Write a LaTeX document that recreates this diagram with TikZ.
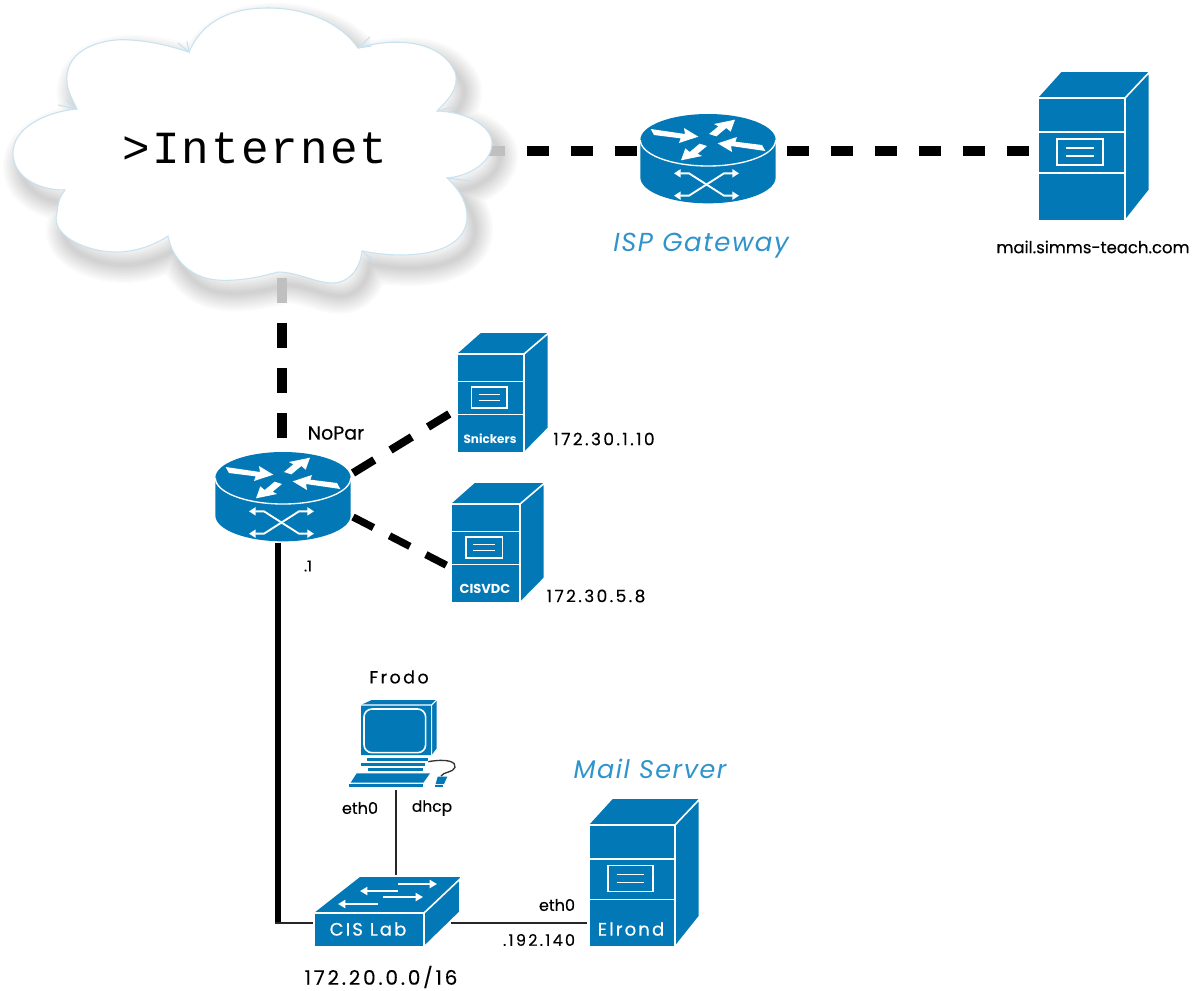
\documentclass[tikz,border=0pt]{standalone}
\usepackage{fontspec}
\setmainfont{Poppins}
\newfontfamily\monofnt{Liberation Mono}
\newfontfamily\spaced[LetterSpace=6]{Poppins}
\newfontfamily\wide[LetterSpace=14,FakeBold=0.25]{Poppins}
\newfontfamily\widebold[LetterSpace=12,FakeBold=0.6]{Poppins}
\newfontfamily\med[FakeBold=0.35]{Poppins}
\usetikzlibrary{arrows.meta,calc}
\definecolor{cisco}{HTML}{0279B6}
\definecolor{capblue}{HTML}{2F93CC}
\definecolor{cloudline}{HTML}{C8E2F0}
\newcommand{\fs}[1]{\pgfmathparse{#1*0.75}\edef\fsz{\pgfmathresult}\fontsize{\fsz pt}{\fsz pt}\selectfont}
\def\cloudpath{(189,52) .. controls (205,15) and (240,8) .. (268,8) .. controls (305,8) and (340,22) .. (358,48)
 .. controls (390,38) and (440,38) .. (455,72) .. controls (460,88) and (448,100) .. (437,111)
 .. controls (470,112) and (492,128) .. (492,143) .. controls (492,162) and (470,176) .. (447,178)
 .. controls (462,192) and (467,205) .. (467,217) .. controls (467,250) and (420,262) .. (362,251)
 .. controls (360,270) and (348,283) .. (333,283) .. controls (315,283) and (298,272) .. (278,272)
 .. controls (250,280) and (230,281) .. (217,280) .. controls (190,278) and (172,258) .. (168,236)
 .. controls (150,248) and (130,252) .. (117,252) .. controls (85,252) and (50,235) .. (57,213) .. controls (58,202) and (60,196) .. (65,190)
 .. controls (35,190) and (13,175) .. (13,153) .. controls (13,128) and (45,112) .. (77,109)
 .. controls (70,95) and (66,88) .. (67,75) .. controls (70,45) and (110,38) .. (130,40) .. controls (150,41) and (170,46) .. (189,52) -- cycle}
\tikzset{
  x=0.75pt,y=-0.75pt,
  hotspot/.style={inner sep=0pt,outer sep=0pt},
  wan/.style={line width=7.5pt,black,dash pattern=on 16.5pt off 16.5pt},
  wanfaded/.style={line width=7.5pt,black!25},
  lanthick/.style={line width=4.5pt,black},
  lanthin/.style={line width=2pt,black!85},
  edgew/.style={draw=white,line width=1.2pt},
  tiny arrow/.style={white,line width=1.4pt,{Triangle[length=5pt,width=6pt]}-{Triangle[length=5pt,width=6pt]}},
  one arrow/.style={white,line width=1.4pt,-{Triangle[length=5.5pt,width=6pt]}},
  lbl/.style={inner sep=0pt,black},
  inlbl/.style={inner sep=0pt,white},
  bluecap/.style={inner sep=0pt,capblue}
}
\newcommand{\serverbox}[5]{%
  \node[hotspot,minimum width=#4*0.75pt,minimum height=#5*0.75pt] (#1) at ({#2+#4/2},{#3+#5/2}) {};
  \pgfmathsetmacro{\srvback}{87+24.5*87/#4}%
  \begin{scope}[shift={(#2,#3)},xscale=#4/87,yscale=#5/123]
    \fill[cisco] (0,0) -- (\srvback-88,-26) -- (\srvback,-26) -- (\srvback,92) -- (87,123) -- (0,123) -- cycle;
    \draw[edgew] (0,0) rectangle (87,123);
    \draw[edgew] (87,0) -- (\srvback,-26) -- (\srvback,92) -- (87,123);
    \draw[edgew] (0,34) -- (87,34) (0,75) -- (87,75);
    \draw[edgew] (19,41) rectangle (65,67);
    \draw[edgew,line width=.9pt] (28,50) -- (56,50) (28,58) -- (56,58);
  \end{scope}}
\newcommand{\routerbox}[3]{%
  \node[hotspot,minimum width=102pt,minimum height=67pt] (#1) at (#2,{#3+18}) {};
  \begin{scope}[shift={(#2,#3)},scale=1/3,shift={(-247,-473)}]
    \fill[cisco] (44,473) -- (44,585) arc[start angle=180,end angle=0,x radius=203,y radius=78] -- (450,473) -- cycle;
    \fill[cisco] (247,473) circle[x radius=203,y radius=78];
    \draw[white,line width=1pt] (44,473) arc[start angle=180,end angle=0,x radius=203,y radius=78];
    \fill[white] (75,440) -- (178,455) -- (175,437) -- (218,463) -- (160,482) -- (165,468) -- (85,458) -- cycle;
    \fill[white] (250,455) -- (278,432) -- (265,425) -- (328,412) -- (315,448) -- (302,437) -- (272,462) -- cycle;
    \fill[white] (419,506) -- (316,491) -- (319,509) -- (276,483) -- (334,464) -- (329,478) -- (409,488) -- cycle;
    \fill[white] (244,491) -- (216,514) -- (229,521) -- (166,534) -- (179,498) -- (192,509) -- (222,484) -- cycle;
    \draw[tiny arrow] (145,573) -- (190,573) -- (295,640) -- (340,640);
    \draw[tiny arrow] (145,640) -- (190,640) -- (295,573) -- (340,573);
  \end{scope}}
\begin{document}
\begin{tikzpicture}
\useasboundingbox (0,0) rectangle (1194,990);
\fill[white] (0,0) rectangle (1194,990);

% cloud shadow
\begin{scope}[shift={(8,13)}]
\foreach \w in {36,32,...,4}{
  \path[draw=black,line width=\w*0.75pt,line join=round,opacity=0.02] \cloudpath;
}
\end{scope}

% anchors
\node[hotspot,minimum width=360pt,minimum height=208pt] (cloud) at (253,146.5) {};
\coordinate (cloudE) at (483,151);
\coordinate (cloudS) at (282,278);

% placeholders for the connector targets
\routerbox{isp}{708}{140}
\routerbox{nopar}{283}{478}
\serverbox{mail}{1038}{98}{87}{123}
\serverbox{snickers}{457}{354}{67}{99}
\serverbox{cisvdc}{451}{504}{69}{99}
\serverbox{elrond}{589}{825}{86}{122}
\node[hotspot,minimum width=109pt,minimum height=52pt] (switch) at (387,912) {};
\node[hotspot,minimum width=80pt,minimum height=66pt] (frodo) at (402,744) {};
\coordinate (bend) at (278,923);

% connectors
\draw[wan] (cloudE) -- ($(isp.west)+(0,-7)$);
\draw[wanfaded] (cloudE) -- ++(22,0);
\draw[wan] ($(isp.east)+(11,-7)$) -- ($(mail.west)+(-8,-8.5)$);
\draw[wan,dash pattern=on 18.75pt off 15pt] (cloudS) -- ($(nopar.north)+(-1,-13)$);
\draw[wanfaded] (cloudS) -- ++(0,25);
\draw[line width=6pt,dash pattern=on 18.75pt off 14.25pt] ($(nopar.east)+(2,-23)$) -- ($(snickers.west)+(-7,10)$);
\draw[line width=5.5pt,dash pattern=on 17.25pt off 13.5pt] ($(nopar.east)+(2,21)$) -- ($(cisvdc.west)+(-4,12)$);
\draw[lanthick] ($(nopar.south)+(-5,2)$) -- (bend);
\draw[lanthin] ($(bend)+(-3,0)$) -- (bend -| switch.west);
\draw[lanthin] ($(frodo.south)+(-6,2)$) -- ($(switch.north)+(9,-2)$);
\draw[lanthin] ($(switch.east)+(-9,11)$) -- ($(elrond.west)+(-2,37)$);

% cloud
\path[fill=white,draw=cloudline,line width=0.8pt] \cloudpath;
\draw[cloudline,line width=.8pt] (178,43) -- (189,52) -- (187,41) (358,48) -- (370,37) (358,48) -- (372,46)
  (77,109) -- (58,105) (77,109) -- (66,100) (437,111) -- (457,106) (447,178) -- (470,181) (362,251) -- (375,263);
\node[inner sep=0pt] at (255,148) {\monofnt\addfontfeature{LetterSpace=4.5}\fs{46}>Internet};

% switch
\fill[cisco] (314,913) -- (360,877) -- (460,877) -- (460,912) -- (424,947) -- (314,947) -- cycle;
\draw[edgew] (314,913) rectangle (424,947);
\draw[edgew] (424,913) -- (460,879) -- (460,912) -- (424,947);
\draw[one arrow] (398,884) -- (437,884);
\draw[one arrow] (398,891) -- (360,891);
\draw[one arrow] (383,897) -- (423,897);
\draw[one arrow] (378,904) -- (338,904);

% PC
\begin{scope}[shift={(260,660)},scale=1/3]
\fill[cisco] (303,135) -- (335,120) -- (530,120) -- (530,265) -- (515,285) -- (303,285) -- cycle;
\draw[edgew,line width=.8pt] (515,135) -- (530,120) (303,135) -- (515,135) -- (515,285);
\draw[edgew,line width=1.2pt,rounded corners=6pt] (312,147) rectangle (497,278);
\fill[cisco] (320,295) rectangle (505,303);
\fill[cisco] (303,308) rectangle (495,318);
\fill[cisco] (325,323) rectangle (490,332);
\fill[cisco] (290,340) -- (510,340) -- (490,368) -- (272,368) -- cycle;
\fill[cisco] (268,373) rectangle (490,382);
\draw[black!80,line width=1pt] (505,305) .. controls (560,295) and (590,305) .. (585,322) .. controls (580,338) and (550,335) .. (543,348);
\fill[cisco] (533,350) -- (562,350) -- (552,372) -- (527,372) -- cycle;
\fill[cisco] (525,375) rectangle (550,382);
\end{scope}

% labels
\node[bluecap] at (701,246) {\itshape\spaced\fs{26}ISP Gateway};
\node[bluecap] at (650,769) {\itshape\spaced\fs{25.5}Mail Server};
\node[lbl] at (1093,247) {\med\fs{16.5}mail.simms-teach.com};
\node[lbl] at (336,433) {\med\fs{19}NoPar};
\node[lbl] at (604,439) {\wide\fs{17}172.30.1.10};
\node[lbl] at (596,596) {\wide\fs{17}172.30.5.8};
\node[lbl] at (308,566) {\med\fs{15}.1};
\node[inlbl] at (490,439) {\bfseries\fs{12}Snickers};
\node[inlbl] at (485,589) {\bfseries\fs{13}CISVDC};
\node[lbl] at (399,677) {\wide\fs{17.5}Frodo};
\node[lbl] at (360,808) {\med\fs{16}eth0};
\node[lbl] at (432,808) {\med\fs{15.5}dhcp};
\node[lbl] at (557,905) {\med\fs{16}eth0};
\node[lbl] at (539,940) {\wide\fs{16}.192.140};
\node[inlbl] at (631,929) {\widebold\fs{18}Elrond};
\node[inlbl] at (368,929) {\widebold\fs{18}CIS Lab};
\node[lbl] at (381,977) {\wide\fs{20}172.20.0.0/16};
\end{tikzpicture}
\end{document}
